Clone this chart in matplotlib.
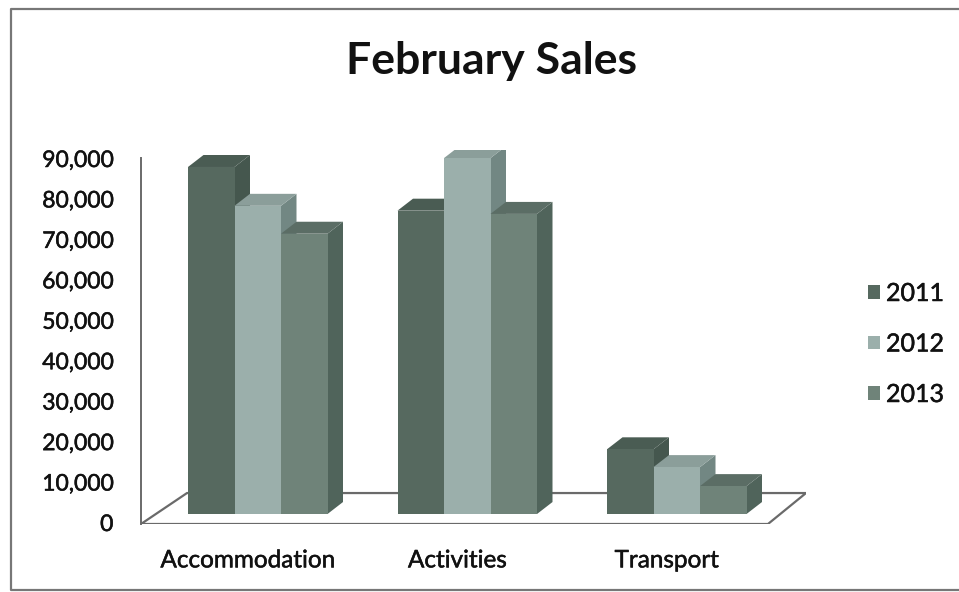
# February sales, scanned excel style 3d columns
import matplotlib
matplotlib.use("Agg")
import matplotlib.pyplot as plt
import matplotlib.patheffects as pe
from matplotlib.lines import Line2D
from matplotlib.patches import Polygon
from matplotlib.transforms import ScaledTranslation

categories = ["Accommodation", "Activities", "Transport"]
years = ["2011", "2012", "2013"]
sales_2011 = [85800, 75000, 16000]
sales_2012 = [76200, 88000, 11600]
sales_2013 = [69300, 74200, 6900]
y_ticks = [0, 10000, 20000, 30000, 40000, 50000, 60000, 70000, 80000, 90000]

series = [sales_2011, sales_2012, sales_2013]
front_cols = ["#56695f", "#9bafab", "#6f8379"]
side_cols = ["#45574e", "#728783", "#50645b"]
top_cols = ["#4a5c53", "#8b9e9a", "#5b6d65"]

W, H = 959, 592
fig = plt.figure(figsize=(W / 100, H / 100), dpi=100, facecolor="white")
plt.rcParams["font.family"] = ["Lato", "DejaVu Sans"]

# axes box in pixels, 0 of the bars sits at y=514, floor front at 524
px_left, px_right, px_bottom, px_top = 141, 806, 524, 150
ax = fig.add_axes([px_left / W, 1 - px_bottom / H,
                   (px_right - px_left) / W, (px_bottom - px_top) / H])
per_cat = 209.5   # px per category
per_val = 4.05 / 1000   # px per unit of sales
cat0 = 257.75
ax.set_xlim((px_left - cat0) / per_cat, (px_right - cat0) / per_cat)
ax.set_ylim((514 - px_bottom) / per_val, (514 - px_top) / per_val)

bar_w = 46.5 / per_cat
dx = 15.5 / per_cat  # depth of a column
dy = 12 / per_val

# floor
fx = [px_left, 187, px_right, 768]
fy = [524, 493, 493, 524]
floor = Polygon([((a - cat0) / per_cat, (514 - b) / per_val) for a, b in zip(fx, fy)],
                closed=True, facecolor="white", edgecolor="#6a6a6a", linewidth=1.6, zorder=1)
ax.add_patch(floor)

for i, vals in enumerate(series):
    for c, v in enumerate(vals):
        x0 = c + (i - 1.5) * bar_w
        x1 = x0 + bar_w
        side = Polygon([(x1, 0), (x1 + dx, dy), (x1 + dx, v + dy), (x1, v)],
                       facecolor=side_cols[i], edgecolor="none", zorder=2 + i)
        top = Polygon([(x0, v), (x0 + dx, v + dy), (x1 + dx, v + dy), (x1, v)],
                      facecolor=top_cols[i], edgecolor="none", zorder=2 + i)
        ax.add_patch(side)
        ax.add_patch(top)
    ax.bar([c + (i - 1) * bar_w for c in range(len(vals))], vals, width=bar_w,
           color=front_cols[i], zorder=2.5 + i, label=years[i])

for s in ["top", "right", "bottom"]:
    ax.spines[s].set_visible(False)
ax.patch.set_alpha(0)
ax.spines["left"].set_color("#6a6a6a")
ax.spines["left"].set_linewidth(1.4)
ax.spines["left"].set_bounds((514 - px_bottom) / per_val, (514 - 158) / per_val)

ax.set_yticks(y_ticks)
ax.set_yticklabels([f"{t:,}" for t in y_ticks])
ax.set_xticks(range(len(categories)))
ax.set_xticklabels(categories)
ax.tick_params(axis="y", length=0, pad=20, labelsize=16.5, labelcolor="#111111")
ax.tick_params(axis="x", length=0, pad=19, labelsize=17.5, labelcolor="#111111")
# scan makes the text look heavier
heavy = [pe.withStroke(linewidth=0.35, foreground="#111111")]
down = ScaledTranslation(0, -8.5 / 100, fig.dpi_scale_trans)
for lab in ax.get_yticklabels():
    lab.set_transform(lab.get_transform() + down)
    lab.set_path_effects(heavy)
left = ScaledTranslation(-10 / 100, 0, fig.dpi_scale_trans)
for lab in ax.get_xticklabels():
    lab.set_transform(lab.get_transform() + left)
    lab.set_path_effects(heavy)

fig.text(491 / W, 1 - 61 / H, "February Sales", ha="center", va="center",
         fontsize=32, fontweight="bold", color="#111111")

leg = ax.legend(loc="center left", bbox_to_anchor=(868 / W, 1 - 344 / H),
                bbox_transform=fig.transFigure, frameon=False, fontsize=18,
                handlelength=0.46, handleheight=0.46, handletextpad=0.26,
                labelspacing=1.1, borderpad=0, borderaxespad=0)
for t in leg.get_texts():
    t.set_color("#111111")
    t.set_path_effects(heavy)

# scanned frame, open on the right side
fig.add_artist(Line2D([W / W, 11 / W, 11 / W, W / W],
                      [1 - 9 / H, 1 - 9 / H, 1 - 590 / H, 1 - 590 / H],
                      transform=fig.transFigure, color="#777777", linewidth=1.6))

fig.savefig("out.png", dpi=100)
